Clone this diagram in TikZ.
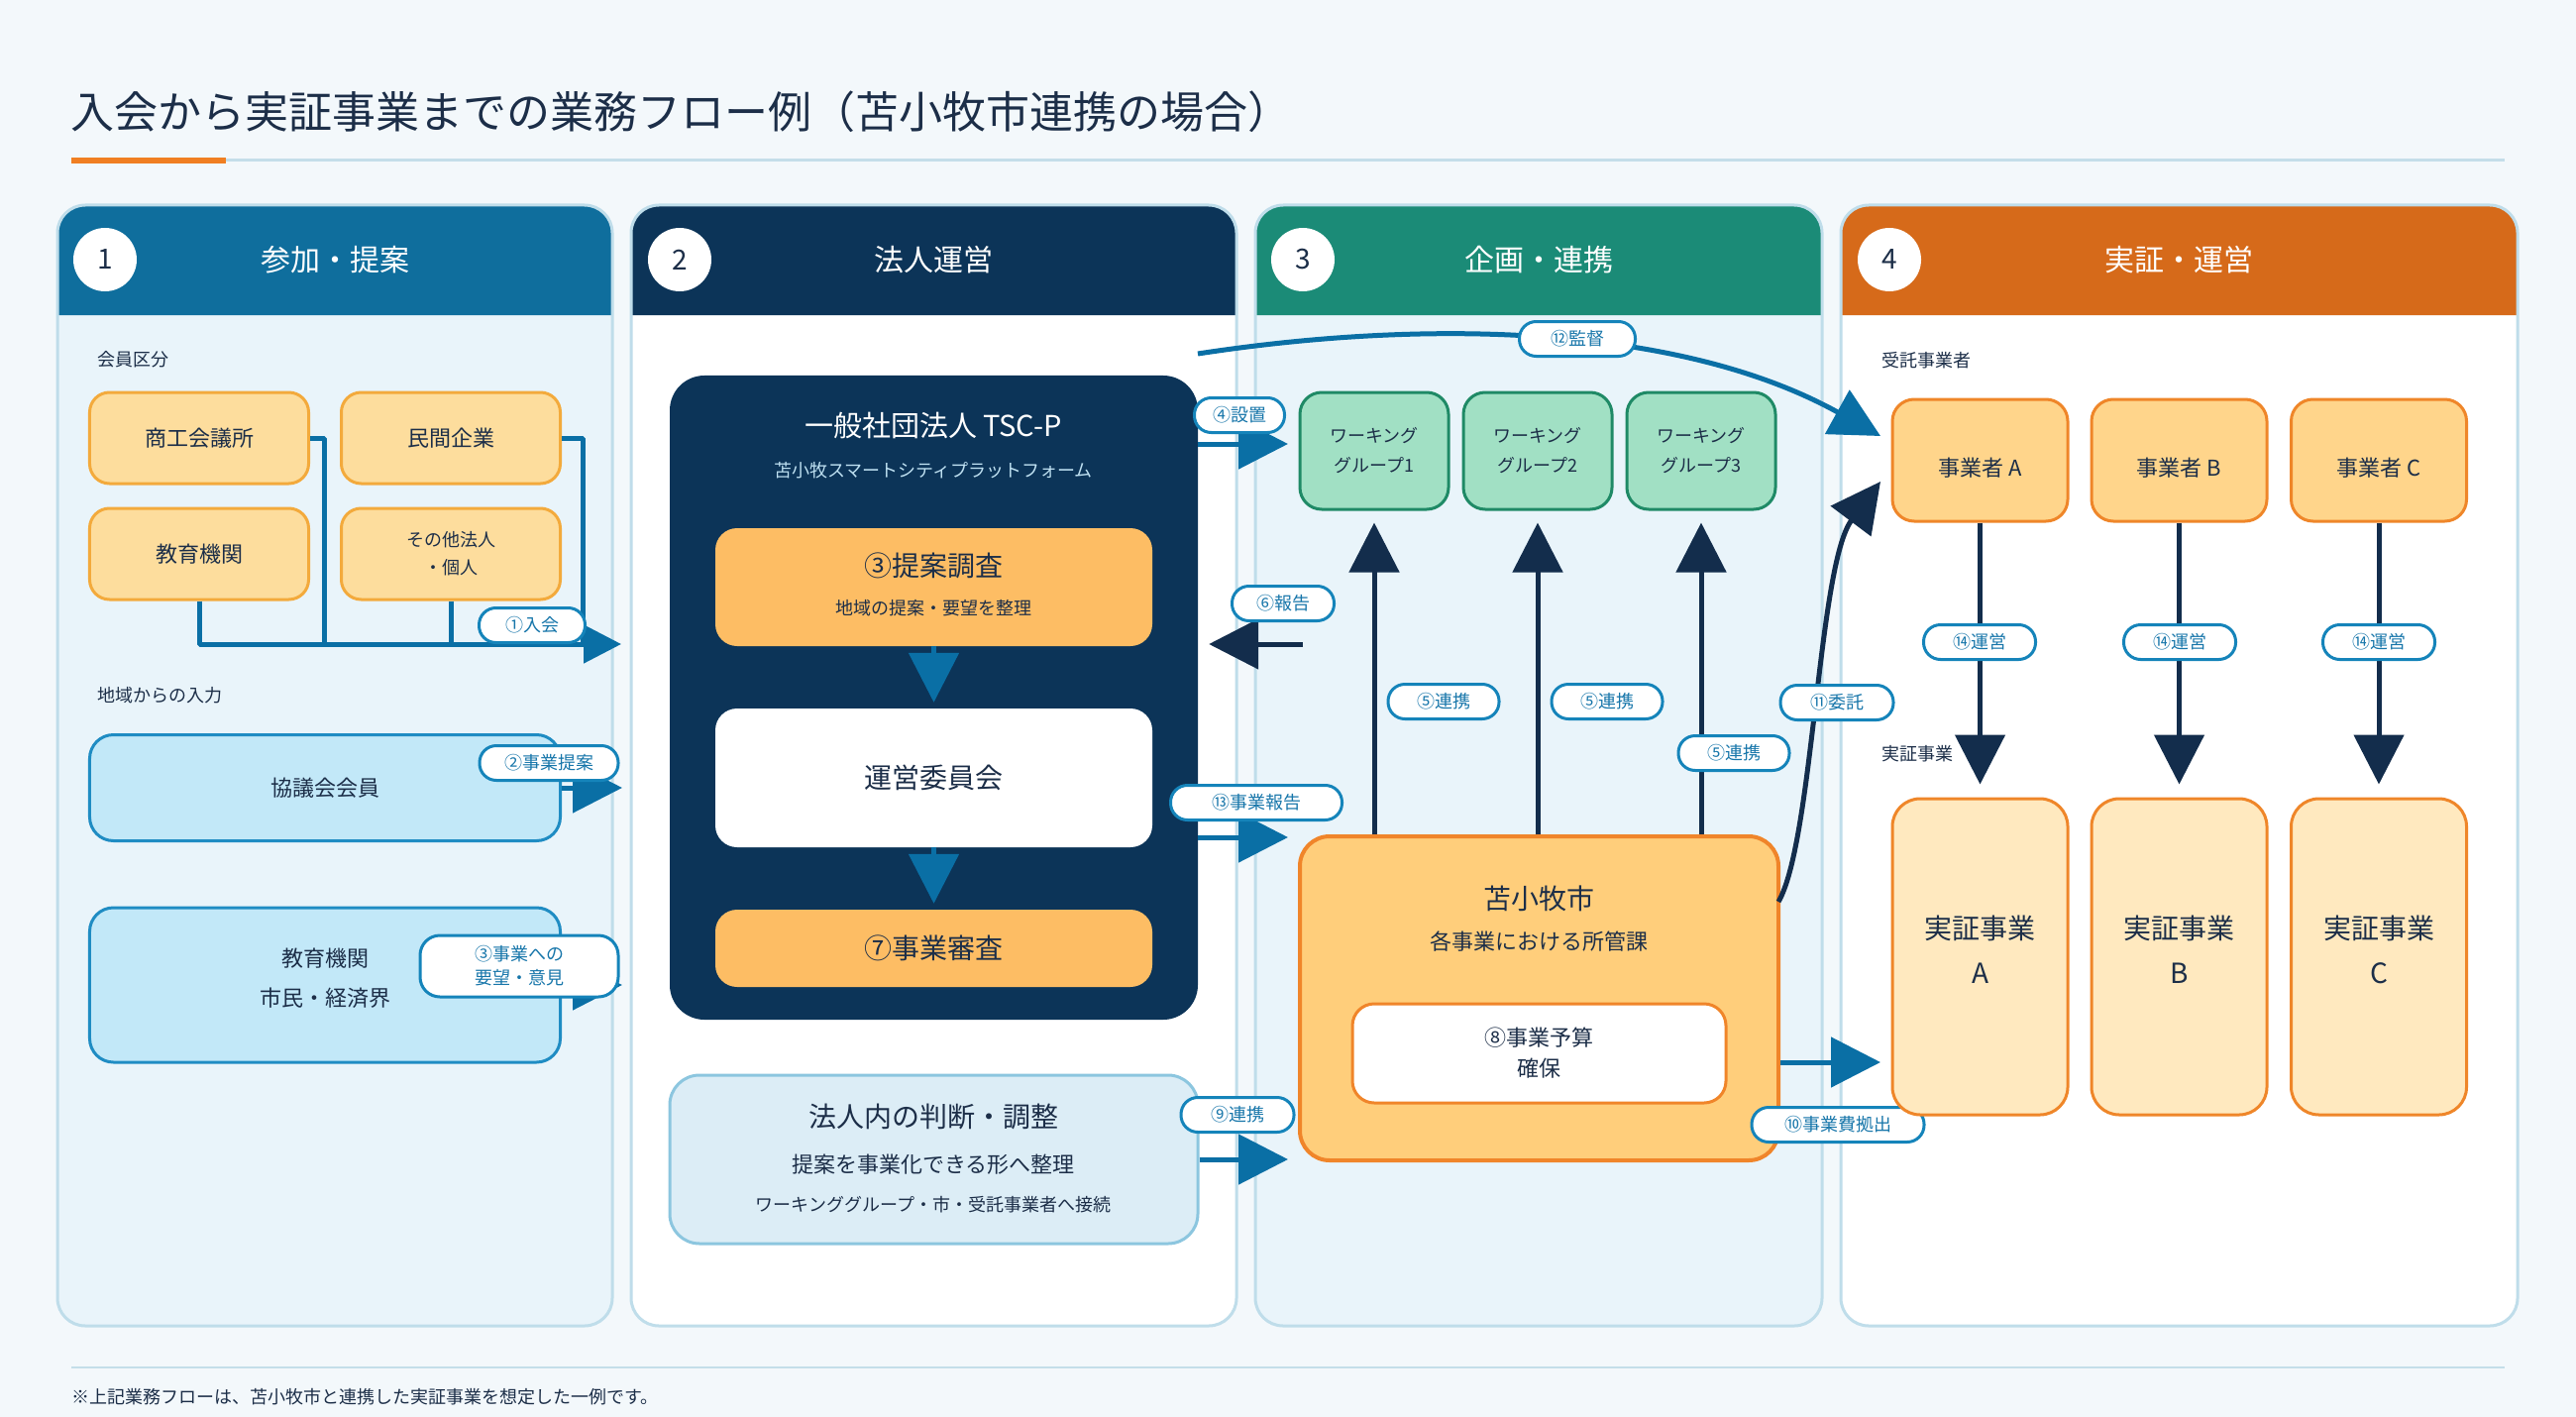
\documentclass[tikz,border=0pt]{standalone}
\usepackage{fontspec}
\setmainfont{Noto Sans CJK JP}
\usepackage{xcolor}
\usepackage{tikz}
\usetikzlibrary{arrows.meta,shapes}

\definecolor{bgpale}{HTML}{F3F8FB}
\definecolor{panelline}{HTML}{BFDDEA}
\definecolor{panelblue}{HTML}{E9F4FA}
\definecolor{hdrone}{HTML}{0F6E9D}
\definecolor{hdrtwo}{HTML}{0C3458}
\definecolor{hdrthree}{HTML}{1B8B77}
\definecolor{hdrfour}{HTML}{D66A1A}
\definecolor{txtdark}{HTML}{1C2E48}
\definecolor{memfill}{HTML}{FDDD9D}
\definecolor{memline}{HTML}{F3AA3C}
\definecolor{regfill}{HTML}{C2E8F8}
\definecolor{regline}{HTML}{1F8CC3}
\definecolor{subblue}{HTML}{BFE1F2}
\definecolor{orangebox}{HTML}{FDBD64}
\definecolor{hojinfill}{HTML}{DCEDF6}
\definecolor{hojinline}{HTML}{8CC6DF}
\definecolor{wgfill}{HTML}{A1E0C4}
\definecolor{wgline}{HTML}{1F8A66}
\definecolor{cityfill}{HTML}{FFCE7B}
\definecolor{cityline}{HTML}{F0852A}
\definecolor{opfill}{HTML}{FFD58B}
\definecolor{opline}{HTML}{EF8629}
\definecolor{jfill}{HTML}{FFE9BF}
\definecolor{flowblue}{HTML}{0A6FA5}
\definecolor{flownavy}{HTML}{132D4C}
\definecolor{pillline}{HTML}{1584BA}
\definecolor{pilltext}{HTML}{1776AA}
\definecolor{accent}{HTML}{F07F22}
\definecolor{ruleblue}{HTML}{C4DEE9}

\newcommand{\fsz}[2]{\fontsize{#1bp}{#2bp}\selectfont}

\begin{document}
\begin{tikzpicture}[x=1bp,y=-1bp,>={Triangle[length=50bp,width=50bp]},line join=bevel,
  every node/.style={text=txtdark,inner sep=0pt},
  sublabel/.style={anchor=west,font=\fsz{18}{22}},
  hdr/.style={text=white,font=\fsz{30}{34}},
  badge/.style={circle,fill=white,minimum size=64bp,font=\fsz{28}{32}},
  member/.style={draw=memline,fill=memfill,line width=3bp,rounded corners=20bp,minimum width=221bp,minimum height=92bp,align=center,font=\fsz{22}{26}},
  region/.style={draw=regline,fill=regfill,line width=3bp,rounded corners=24bp,minimum width=475bp,align=center,font=\fsz{22}{40}},
  pill/.style={draw=pillline,fill=white,line width=3bp,rounded corners=17bp,minimum height=35bp,text=pilltext,align=center,font=\fsz{18}{24}},
  tscbox/.style={rounded corners=22bp,minimum width=441bp,font=\fsz{28}{34}},
  wg/.style={draw=wgline,fill=wgfill,line width=3bp,rounded corners=22bp,minimum width=150bp,minimum height=118bp,align=center,font=\fsz{18}{30}},
  opbox/.style={draw=opline,fill=opfill,line width=3bp,rounded corners=22bp,minimum width=177bp,minimum height=123bp,text height=33bp,font=\fsz{22}{26}},
  jbox/.style={draw=opline,fill=jfill,line width=3bp,rounded corners=28bp,minimum width=177bp,minimum height=319bp,text depth=14bp,align=center,font=\fsz{28}{45}},
  blueflow/.style={draw=flowblue,line width=5bp},
  navyflow/.style={draw=flownavy,line width=5bp},
]
\useasboundingbox (0,0) rectangle (2600,1430);
\fill [bgpale] (0,0) rectangle (2600,1430);
%% title
\node (title) at (71,113) [anchor=west,font=\fsz{44}{50}] {入会から実証事業までの業務フロー例（苫小牧市連携の場合）};
\draw [ruleblue,line width=3bp] (228,162) -- (2528,162);
\draw [accent,line width=6bp] (72,162) -- (228,162);
%% panels
\fill [panelblue,rounded corners=28bp] (58,207) rectangle (618,1338);
\fill [hdrone,rounded corners=28bp] (58,318) -- (58,207) -- (618,207) -- (618,318);
\draw [panelline,line width=3bp,rounded corners=28bp] (58,207) rectangle (618,1338);
\fill [white,rounded corners=28bp] (637,207) rectangle (1248,1338);
\fill [hdrtwo,rounded corners=28bp] (637,318) -- (637,207) -- (1248,207) -- (1248,318);
\draw [panelline,line width=3bp,rounded corners=28bp] (637,207) rectangle (1248,1338);
\fill [panelblue,rounded corners=28bp] (1267,207) rectangle (1839,1338);
\fill [hdrthree,rounded corners=28bp] (1267,318) -- (1267,207) -- (1839,207) -- (1839,318);
\draw [panelline,line width=3bp,rounded corners=28bp] (1267,207) rectangle (1839,1338);
\fill [white,rounded corners=28bp] (1858,207) rectangle (2541,1338);
\fill [hdrfour,rounded corners=28bp] (1858,318) -- (1858,207) -- (2541,207) -- (2541,318);
\draw [panelline,line width=3bp,rounded corners=28bp] (1858,207) rectangle (2541,1338);
%
\node (b1) at (106,262) [badge] {1};
\node (h1) at (338,262) [hdr] {参加・提案};
\node (b2) at (686,262) [badge] {2};
\node (h2) at (942,262) [hdr] {法人運営};
\node (b3) at (1315,262) [badge] {3};
\node (h3) at (1553,262) [hdr] {企画・連携};
\node (b4) at (1907,262) [badge] {4};
\node (h4) at (2199,262) [hdr] {実証・運営};
%% 1 participation
\node (kubun) at (98,363) [sublabel] {会員区分};
\node (shoko) at (201,442) [member] {商工会議所};
\node (minkan) at (455,442) [member] {民間企業};
\node (kyoiku) at (201,559) [member] {教育機関};
\node (sonota) at (455,559) [member,font=\fsz{18}{28}] {その他法人\\・個人};
\coordinate (in1) at (627,650);
\coordinate (j1) at (327,650);
\coordinate (j2) at (588,650);
\draw [blueflow] (shoko.east) -| (j1);
\draw [blueflow] (minkan.east) -| (j2);
\draw [blueflow] (sonota.south) -- (sonota.south |- in1);
\draw [blueflow,->,>={Triangle[length=38bp,width=38bp]}] (kyoiku.south) |- (in1);
\node (p1) at (537,631) [pill,minimum width=107bp] {①入会};
%
\node (chiiki) at (98,702) [sublabel] {地域からの入力};
\node (kyogi) at (328,795) [region,minimum height=107bp] {協議会会員};
\node (shimin) at (328,994) [region,minimum height=156bp,text depth=15bp] {教育機関\\市民・経済界};
\coordinate (in2) at (628,795);
\coordinate (in3) at (628,994);
\draw [blueflow,->] (kyogi.east) -- (in2);
\draw [blueflow,->] (shimin.east) -- (in3);
\node (p2) at (554,770) [pill,minimum width=140bp] {②事業提案};
\node (p3) at (524,975) [pill,minimum width=200bp,minimum height=62bp,rounded corners=20bp] {③事業への\\要望・意見};
%% 2 corporation
\node (tsc) at (942.5,704) [fill=hdrtwo,rounded corners=35bp,minimum width=533bp,minimum height=650bp] {};
\node (tsct) at (942,430) [text=white,font=\fsz{29}{34}] {一般社団法人 TSC-P};
\node (tscs) at (942,475) [text=subblue,font=\fsz{18}{22}] {苫小牧スマートシティプラットフォーム};
\node (teian) at (942.5,592.5) [tscbox,fill=orangebox,minimum height=119bp] {};
\node (teiant) at (942,571) [font=\fsz{28}{34}] {③提案調査};
\node (teians) at (942,614) [font=\fsz{18}{22}] {地域の提案・要望を整理};
\node (iinkai) at (942.5,785) [tscbox,fill=white,minimum height=140bp] {運営委員会};
\node (shinsa) at (942.5,957) [tscbox,fill=orangebox,minimum height=78bp] {⑦事業審査};
\draw [blueflow,->,shorten >=6bp] (teian) -- (iinkai);
\draw [blueflow,->,shorten >=6bp] (iinkai) -- (shinsa);
%
\node (hojin) at (942.5,1170) [draw=hojinline,fill=hojinfill,line width=3bp,rounded corners=30bp,minimum width=533bp,minimum height=170bp] {};
\node (hojint) at (942,1127) [font=\fsz{28}{34}] {法人内の判断・調整};
\node (hojins) at (942,1175) [font=\fsz{22}{26}] {提案を事業化できる形へ整理};
\node (hojinu) at (942,1216) [font=\fsz{18}{22}] {ワーキンググループ・市・受託事業者へ接続};
%
\coordinate (e4) at (1300,448);
\coordinate (r6) at (1315,650);
\coordinate (e13) at (1300,845);
\coordinate (e9) at (1300,1170);
\draw [blueflow,->] (tsc.east |- e4) -- (e4);
\draw [navyflow,->,shorten >=11bp] (r6) -- (r6 -| tsc.east);
\draw [blueflow,->] (tsc.east |- e13) -- (e13);
\draw [blueflow,->] (hojin.east) -- (e9);
\node (p4) at (1251,419) [pill,minimum width=91bp] {④設置};
\node (p6) at (1295,609) [pill,minimum width=103bp] {⑥報告};
\node (p13) at (1268,810) [pill,minimum width=173bp] {⑬事業報告};
\node (p9) at (1249,1125) [pill,minimum width=114bp] {⑨連携};
%% 3 planning
\node (wg1) at (1387,455) [wg] {ワーキング\\グループ1};
\node (wg2) at (1552,455) [wg] {ワーキング\\グループ2};
\node (wg3) at (1717,455) [wg] {ワーキング\\グループ3};
\node (city) at (1553.5,1007.5) [draw=cityline,fill=cityfill,line width=4bp,rounded corners=30bp,minimum width=483bp,minimum height=327bp] {};
\node (cityt) at (1553,907) [font=\fsz{28}{34}] {苫小牧市};
\node (citys) at (1553,950) [font=\fsz{22}{26}] {各事業における所管課};
\node (yosan) at (1553.5,1063) [draw=cityline,fill=white,line width=3bp,rounded corners=22bp,minimum width=377bp,minimum height=100bp,align=center,font=\fsz{22}{31}] {⑧事業予算\\確保};
\draw [navyflow,->,shorten >=12bp] (city.north -| wg1.south) -- (wg1.south);
\draw [navyflow,->,shorten >=12bp] (city.north -| wg2.south) -- (wg2.south);
\draw [navyflow,->,shorten >=12bp] (city.north -| wg3.south) -- (wg3.south);
\node (p5a) at (1457,708) [pill,minimum width=112bp] {⑤連携};
\node (p5b) at (1622,708) [pill,minimum width=112bp] {⑤連携};
\node (p5c) at (1750,760) [pill,minimum width=112bp] {⑤連携};
%
\coordinate (e10) at (1898,1072);
\coordinate (b11) at (1795,910);
\coordinate (e11) at (1898,486);
\coordinate (b12) at (1209,357);
\coordinate (e12) at (1898,440);
\draw [blueflow,->] (e10 -| city.east) -- (e10);
\draw [navyflow,->] (b11) .. controls (1830,850) and (1835,570) .. (e11);
\draw [blueflow,->] (b12) .. controls (1450,320) and (1700,330) .. (e12);
\node (p10) at (1855,1135) [pill,minimum width=174bp] {⑩事業費拠出};
\node (p11) at (1854,709) [pill,minimum width=114bp] {⑪委託};
\node (p12) at (1592,342) [pill,minimum width=117bp] {⑫監督};
%% 4 operation
\node (jutaku) at (1899,364) [sublabel] {受託事業者};
\node (jissho) at (1899,761) [sublabel] {実証事業};
\node (opA) at (1998.5,464.5) [opbox] {事業者 A};
\node (opB) at (2199.5,464.5) [opbox] {事業者 B};
\node (opC) at (2401,464.5) [opbox] {事業者 C};
\node (jA) at (1998.5,965.5) [jbox] {実証事業\\A};
\node (jB) at (2199.5,965.5) [jbox] {実証事業\\B};
\node (jC) at (2401,965.5) [jbox] {実証事業\\C};
\draw [navyflow,->,shorten >=13bp] (opA) -- (jA);
\draw [navyflow,->,shorten >=13bp] (opB) -- (jB);
\draw [navyflow,->,shorten >=13bp] (opC) -- (jC);
\node (p14a) at (1998,648) [pill,minimum width=113bp] {⑭運営};
\node (p14b) at (2200,648) [pill,minimum width=113bp] {⑭運営};
\node (p14c) at (2401,648) [pill,minimum width=113bp] {⑭運営};
%% note
\draw [ruleblue,line width=2bp] (72,1380) -- (2528,1380);
\node (note) at (72,1410) [anchor=west,font=\fsz{18}{22}] {※上記業務フローは、苫小牧市と連携した実証事業を想定した一例です。};
%
\end{tikzpicture}
\end{document}
